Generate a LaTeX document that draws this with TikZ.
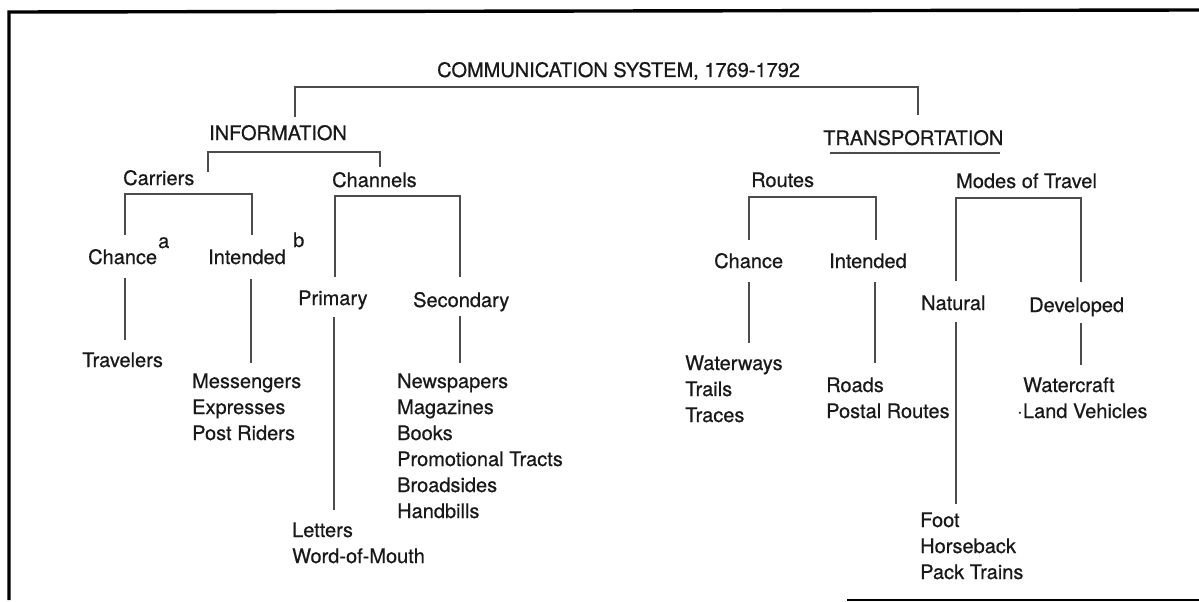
\documentclass[tikz,border=0pt]{standalone}
\usepackage{fontspec}
\setmainfont{TeX Gyre Heros}
\newfontfamily\heavyfont{TeX Gyre Heros}[FakeBold=0.6]
\begin{document}
\tikzset{
  lbl/.style={anchor=base west, inner sep=0pt, text=black!90, font=\heavyfont\fontsize{20}{24}\selectfont},
  conn/.style={draw=black!70, line width=1.2pt},
  frame/.style={draw=black, line width=3.4pt}
}
\begin{tikzpicture}[x=1pt,y=-1pt]
\useasboundingbox (0,0) rectangle (1199,602);
% frame
\coordinate (fa) at (1199,10);
\coordinate (fb) at (9,12);
\coordinate (fc) at (9,600);
\draw[frame] (fa) -- (fb) -- (fc);
\coordinate (fd) at (847,600);
\coordinate (fe) at (1199,600);
\draw[draw=black, line width=2pt] (fd) -- (fe);

% labels
\node[lbl] (title) at (437,77) {COMMUNICATION SYSTEM, 1769-1792};
\node[lbl] (info) at (209,140) {INFORMATION};
\node[lbl] (trans) at (823,145) {TRANSPORTATION};
\node[lbl] (carriers) at (123,185) {Carriers};
\node[lbl] (channels) at (332,187) {Channels};
\node[lbl] (routes) at (751,187) {Routes};
\node[lbl] (modes) at (956,188) {Modes of Travel};
\node[lbl] (chanceL) at (88,264) {Chance};
\node[lbl] (supa) at (158,248) {a};
\node[lbl] (intendedL) at (208,264) {Intended};
\node[lbl] (supb) at (293,247) {b};
\node[lbl] (primary) at (298,305) {Primary};
\node[lbl] (secondary) at (413,307) {Secondary};
\node[lbl] (travelers) at (82,367) {Travelers};
\node[lbl] (messengers) at (192,388) {Messengers};
\node[lbl] (expresses) at (192,414) {Expresses};
\node[lbl] (postriders) at (192,440) {Post Riders};
\node[lbl] (newspapers) at (397,388) {Newspapers};
\node[lbl] (magazines) at (397,414) {Magazines};
\node[lbl] (books) at (397,440) {Books};
\node[lbl] (tracts) at (397,466) {Promotional Tracts};
\node[lbl] (broadsides) at (397,492) {Broadsides};
\node[lbl] (handbills) at (397,518) {Handbills};
\node[lbl] (letters) at (292,537) {Letters};
\node[lbl] (wom) at (292,563) {Word-of-Mouth};
\node[lbl] (chanceR) at (714,268) {Chance};
\node[lbl] (intendedR) at (829,268) {Intended};
\node[lbl] (natural) at (921,310) {Natural};
\node[lbl] (developed) at (1029,312) {Developed};
\node[lbl] (waterways) at (685,370) {Waterways};
\node[lbl] (trails) at (685,396) {Trails};
\node[lbl] (traces) at (685,422) {Traces};
\node[lbl] (roads) at (826,392) {Roads};
\node[lbl] (postal) at (826,418) {Postal Routes};
\node[lbl] (watercraft) at (1023,392) {Watercraft};
\node[lbl] (land) at (1017,418) {$\cdot$Land Vehicles};
\node[lbl] (foot) at (920,527) {Foot};
\node[lbl] (horseback) at (920,553) {Horseback};
\node[lbl] (pack) at (920,579) {Pack Trains};

% top bracket
\coordinate (t1) at (295,117); \coordinate (t2) at (295,87);
\coordinate (t3) at (918,87);  \coordinate (t4) at (918,115);
\draw[conn] (t1) -- (t2) -- (t3) -- (t4);
% information bracket
\coordinate (i1) at (208,172); \coordinate (i2) at (208,152);
\coordinate (i3) at (380,152); \coordinate (i4) at (380,167);
\draw[conn] (i1) -- (i2) -- (i3) -- (i4);
% transportation underline
\coordinate (u1) at (830,153); \coordinate (u2) at (1000,153);
\draw[conn] (u1) -- (u2);
% carriers bracket
\coordinate (c1) at (125,235); \coordinate (c2) at (125,194);
\coordinate (c3) at (252,194); \coordinate (c4) at (252,235);
\draw[conn] (c1) -- (c2) -- (c3) -- (c4);
% channels bracket
\coordinate (h1) at (335,277); \coordinate (h2) at (335,196);
\coordinate (h3) at (460,196); \coordinate (h4) at (460,277);
\draw[conn] (h1) -- (h2) -- (h3) -- (h4);
% routes bracket
\coordinate (r1) at (749,240); \coordinate (r2) at (749,197);
\coordinate (r3) at (876,197); \coordinate (r4) at (876,240);
\draw[conn] (r1) -- (r2) -- (r3) -- (r4);
% modes bracket
\coordinate (m1) at (956,281); \coordinate (m2) at (956,198);
\coordinate (m3) at (1081,198); \coordinate (m4) at (1081,282);
\draw[conn] (m1) -- (m2) -- (m3) -- (m4);
% lower verticals
\coordinate (v1a) at (125,278); \coordinate (v1b) at (125,340);
\draw[conn] (v1a) -- (v1b);
\coordinate (v2a) at (251,279); \coordinate (v2b) at (251,363);
\draw[conn] (v2a) -- (v2b);
\coordinate (v3a) at (334,317); \coordinate (v3b) at (334,510);
\draw[conn] (v3a) -- (v3b);
\coordinate (v4a) at (460,316); \coordinate (v4b) at (460,363);
\draw[conn] (v4a) -- (v4b);
\coordinate (v5a) at (749,282); \coordinate (v5b) at (749,343);
\draw[conn] (v5a) -- (v5b);
\coordinate (v6a) at (875,282); \coordinate (v6b) at (875,363);
\draw[conn] (v6a) -- (v6b);
\coordinate (v7a) at (956,322); \coordinate (v7b) at (956,504);
\draw[conn] (v7a) -- (v7b);
\coordinate (v8a) at (1081,323); \coordinate (v8b) at (1081,365);
\draw[conn] (v8a) -- (v8b);
\end{tikzpicture}
\end{document}
